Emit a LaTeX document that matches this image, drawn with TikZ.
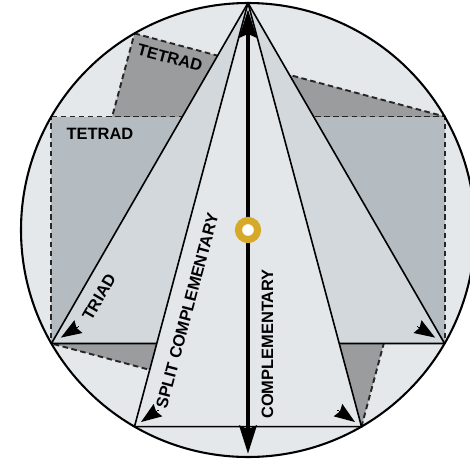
\documentclass[tikz,border=0pt]{standalone}
\usepackage{fontspec}
\setmainfont{Liberation Sans}
\usepackage{xcolor}
\definecolor{wheelbg}{RGB}{228,232,234}
\definecolor{tetdark}{RGB}{154,156,158}
\definecolor{tetlight}{RGB}{180,188,193}
\definecolor{triadfill}{RGB}{210,216,220}
\definecolor{splitfill}{RGB}{227,231,233}
\definecolor{ringgold}{RGB}{214,170,40}
\usepackage{tikz}
\usetikzlibrary{
    arrows.meta,
    calc
}

\begin{document}
\begin{tikzpicture}[
        zone/.style={fill=#1, draw=none},
        tetedge/.style={draw=black!85, line width=1.2pt, dash pattern=on 3.5pt off 2.2pt},
        edge/.style={draw=black, line width=1pt, line join=round},
        tiphead/.style={-{Stealth[length=13pt, width=9.5pt, inset=1.5pt]}, line width=0pt},
        compl/.style={{Stealth[length=0.62cm, width=0.38cm, inset=0.08cm]}-{Stealth[length=0.62cm, width=0.38cm, inset=0.08cm]}, line width=2.6pt, shorten <=4pt, shorten >=2pt},
        label/.style={font=\fontsize{10.3}{12}\selectfont\bfseries, inner sep=1pt}
    ]
        \useasboundingbox (-5.4626,-5.1322) rectangle (4.8899,5.0661);
        \def\R{5}
        \coordinate (apex) at (90:\R);
        \coordinate (bot) at (270:\R);
        \coordinate (triL) at (210:\R);
        \coordinate (triR) at (330:\R);
        \coordinate (splL) at (240:\R);
        \coordinate (splR) at (300:\R);
        \coordinate (tetA) at (150:\R);
        \coordinate (tetB) at (30:\R);
        \coordinate (tetC) at (120:\R);

        % wheel and tetrads
        \fill[wheelbg] (0,0) circle (\R);
        \path[zone=tetdark] (tetC) -- (tetB) -- (splR) -- (triL) -- cycle;
        \draw[tetedge] (tetC) -- (tetB) -- (splR) -- (triL) -- cycle;
        \path[zone=tetlight] (tetA) -- (tetB) -- (triR) -- (triL) -- cycle;
        \draw[tetedge] (tetA) -- (tetB) -- (triR) -- (triL) -- cycle;

        % triad and split complementary
        \draw[edge, fill=triadfill] (apex) -- (triL) -- (triR) -- cycle;
        \draw[edge, fill=splitfill] (apex) -- (splL) -- (splR) -- cycle;
        \draw[compl] (apex) -- (bot);

        \foreach \c/\o/\a/\d in {triL/triR/32/7pt, splL/splR/35/5pt, triR/triL/-32/7pt, splR/splL/-35/5pt}
            \draw[tiphead] ($(\c)!\d+13pt!\a:(\o)$) -- ($(\c)!\d!\a:(\o)$);

        \draw[line width=1.3pt] (0,0) circle (\R);
        \node[circle, draw=ringgold, line width=4.5pt, fill=white, minimum size=0.42cm, inner sep=0pt] (hub) at (0,0) {};

        \node[label] (tetrad1) at (-3.26, 2.11) {TETRAD};
        \node[label, rotate=-15] (tetrad2) at (-1.72, 3.79) {TETRAD};
        \node[label, rotate=60] (triad) at (-3.28, -1.48) {TRIAD};
        \node[label, rotate=75] (split) at (-1.34, -1.78) {SPLIT COMPLEMENTARY};
        \node[label, rotate=90] (complement) at (0.43, -2.51) {COMPLEMENTARY};
    \end{tikzpicture}
\end{document}
